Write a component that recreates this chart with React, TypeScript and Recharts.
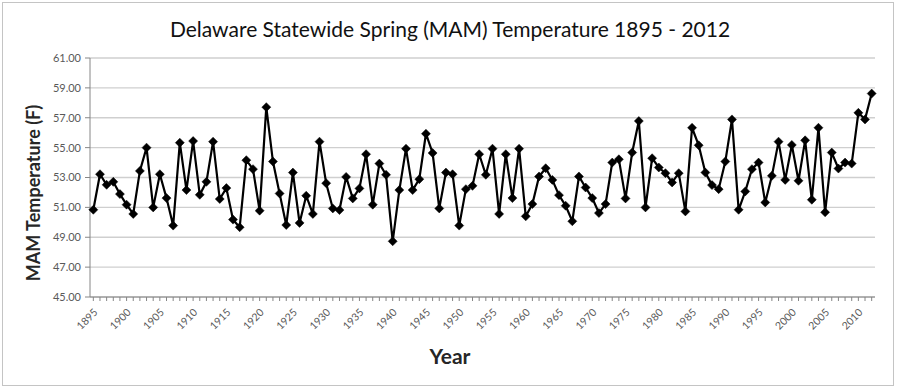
import { LineChart, Line, XAxis, YAxis, CartesianGrid } from "recharts"

const FIRST_YEAR = 1895

// spring (MAM) mean temperature, 1895 - 2012
const temps = [
  50.84, 53.22, 52.51, 52.71, 51.89, 51.18, 50.56, 53.44, 55.0, 51.0,
  53.22, 51.62, 49.78, 55.33, 52.16, 55.44, 51.84, 52.71, 55.4, 51.56,
  52.29, 50.18, 49.67, 54.16, 53.56, 50.78, 57.71, 54.07, 51.93, 49.82,
  53.33, 49.96, 51.78, 50.56, 55.4, 52.62, 50.93, 50.82, 53.04, 51.6,
  52.27, 54.56, 51.18, 53.93, 53.18, 48.73, 52.16, 54.93, 52.16, 52.89,
  55.93, 54.64, 50.93, 53.33, 53.22, 49.78, 52.22, 52.44, 54.56, 53.18,
  54.93, 50.56, 54.56, 51.62, 54.93, 50.4, 51.22, 53.07, 53.62, 52.84,
  51.82, 51.11, 50.07, 53.07, 52.33, 51.62, 50.62, 51.22, 54.0, 54.22,
  51.6, 54.67, 56.78, 51.0, 54.29, 53.67, 53.29, 52.67, 53.29, 50.73,
  56.33, 55.16, 53.33, 52.49, 52.22, 54.07, 56.89, 50.84, 52.07, 53.56,
  54.0, 51.33, 53.11, 55.4, 52.84, 55.18, 52.78, 55.49, 51.51, 56.33,
  50.67, 54.67, 53.6, 54.0, 53.93, 57.33, 56.89, 58.62,
]

const yearLabels = [
  1895, 1900, 1905, 1910, 1915, 1920, 1925, 1930, 1935, 1940, 1945, 1950,
  1955, 1960, 1965, 1970, 1975, 1980, 1985, 1990, 1995, 2000, 2005, 2010,
]

const yTicks = [45, 47, 49, 51, 53, 55, 57, 59, 61]

const data = temps.map((t, i) => ({ year: FIRST_YEAR + i, temp: t }))
const allYears = data.map((d) => d.year)

const FONT = "Lato, 'Open Sans', sans-serif"
const AXIS = "#868686"
const TEXT = "#595959"

function Diamond(props: any) {
  const { cx, cy } = props
  if (cx == null || cy == null) return null
  const r = 4.5
  return (
    <polygon
      points={`${cx},${cy - r} ${cx + r},${cy} ${cx},${cy + r} ${cx - r},${cy}`}
      fill="#000"
      stroke="#000"
      strokeWidth={0.5}
    />
  )
}

function YearTick(props: any) {
  const { x, y, payload } = props
  if (!yearLabels.includes(payload.value)) return null
  const tx = x + 5
  const ty = y + 10
  return (
    <text
      x={tx}
      y={ty}
      textAnchor="end"
      fontSize={10.5}
      fill={TEXT}
      fontFamily={FONT}
      transform={`rotate(-45, ${tx}, ${ty})`}
    >
      {payload.value}
    </text>
  )
}

export default function App() {
  return (
    <div
      style={{
        position: "absolute",
        left: 0,
        top: 0,
        width: 900,
        height: 388,
        background: "#fff",
        fontFamily: FONT,
      }}
    >
      <div
        style={{
          position: "absolute",
          left: 2,
          top: 2,
          width: 890,
          height: 382,
          border: "1px solid #c4c4c4",
        }}
      />
      <div
        style={{
          position: "absolute",
          top: 16,
          left: 0,
          width: 900,
          textAlign: "center",
          fontSize: 21,
          color: "#111",
        }}
      >
        Delaware Statewide Spring (MAM) Temperature 1895 - 2012
      </div>
      <div
        style={{
          position: "absolute",
          left: 33,
          top: 193,
          transform: "translate(-50%, -50%) rotate(-90deg)",
          whiteSpace: "nowrap",
          fontSize: 18,
          fontWeight: 700,
          color: "#262626",
        }}
      >
        MAM Temperature (F)
      </div>
      <div
        style={{
          position: "absolute",
          left: 0,
          width: 900,
          top: 343,
          textAlign: "center",
          fontSize: 21,
          fontWeight: 700,
          color: "#262626",
        }}
      >
        Year
      </div>
      <div style={{ position: "absolute", left: 0, top: 0 }}>
        <LineChart
          width={900}
          height={388}
          data={data}
          margin={{ top: 58, right: 25, bottom: 0, left: 0 }}
        >
          <CartesianGrid vertical={false} stroke="#cfcfcf" strokeWidth={1.3} />
          <XAxis
            dataKey="year"
            type="number"
            domain={[1894.5, 2012.5]}
            ticks={allYears}
            interval={0}
            height={91}
            stroke={AXIS}
            tickSize={4}
            tickMargin={2}
            tick={<YearTick />}
          />
          <YAxis
            domain={[45, 61]}
            ticks={yTicks}
            interval={0}
            width={90}
            stroke={AXIS}
            tickSize={5}
            tickMargin={4}
            tickFormatter={(v: number) => v.toFixed(2)}
            tick={{ fill: TEXT, fontSize: 11, fontFamily: FONT }}
          />
          <YAxis
            yAxisId="frame"
            orientation="right"
            width={0}
            tick={false}
            tickLine={false}
            stroke={AXIS}
            domain={[45, 61]}
          />
          <Line
            dataKey="temp"
            stroke="#000"
            strokeWidth={2.2}
            dot={<Diamond />}
            activeDot={false}
            isAnimationActive={false}
          />
        </LineChart>
      </div>
    </div>
  )
}
